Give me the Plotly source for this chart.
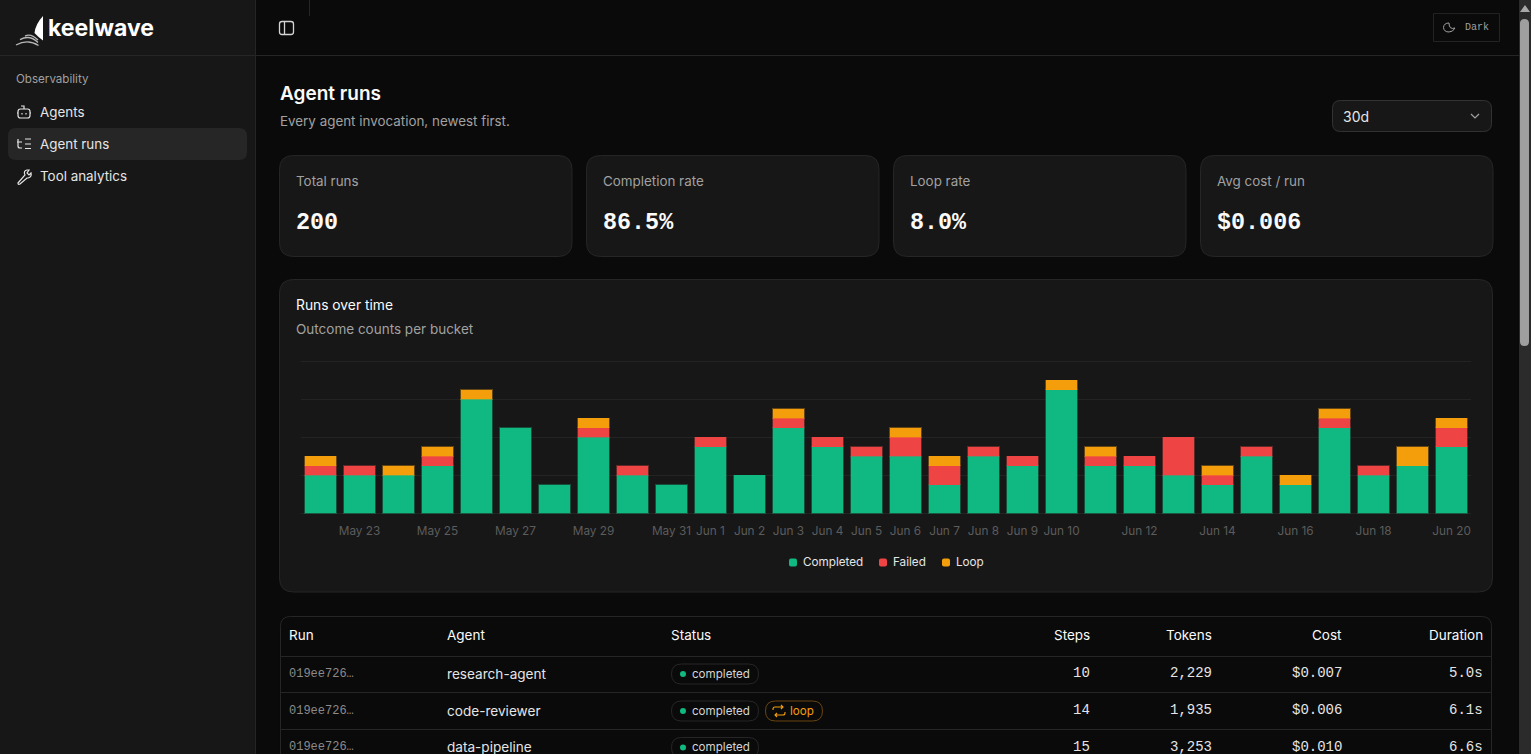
import re
import plotly.graph_objects as go

W, H = 1531, 754

# --- datos del chart ---
dates = ["May 22", "May 23", "May 24", "May 25", "May 26", "May 27", "May 28", "May 29", "May 30", "May 31",
         "Jun 1", "Jun 2", "Jun 3", "Jun 4", "Jun 5", "Jun 6", "Jun 7", "Jun 8", "Jun 9", "Jun 10",
         "Jun 11", "Jun 12", "Jun 13", "Jun 14", "Jun 15", "Jun 16", "Jun 17", "Jun 18", "Jun 19", "Jun 20"]
completed = [4, 4, 4, 5, 12, 9, 3, 8, 4, 3, 7, 4, 9, 7, 6, 6, 3, 6, 5, 13, 5, 5, 4, 3, 6, 3, 9, 4, 5, 7]
failed = [1, 1, 0, 1, 0, 0, 0, 1, 1, 0, 1, 0, 1, 1, 1, 2, 2, 1, 1, 0, 1, 1, 4, 1, 1, 0, 1, 1, 0, 2]
loop = [1, 0, 1, 1, 1, 0, 0, 1, 0, 0, 0, 0, 1, 0, 0, 1, 1, 0, 0, 1, 1, 0, 0, 1, 0, 1, 1, 0, 2, 1]
tick_labels = ["May 23", "May 25", "May 27", "May 29", "May 31", "Jun 1", "Jun 2", "Jun 3", "Jun 4", "Jun 5",
               "Jun 6", "Jun 7", "Jun 8", "Jun 9", "Jun 10", "Jun 12", "Jun 14", "Jun 16", "Jun 18", "Jun 20"]
grid_vals = [0, 4, 8, 12, 16]

# --- textos de la pagina ---
nav_items = ["Agents", "Agent runs", "Tool analytics"]
kpi_names = ["Total runs", "Completion rate", "Loop rate", "Avg cost / run"]
kpi_values = ["200", "86.5%", "8.0%", "$0.006"]
table_head = ["Run", "Agent", "Status", "Steps", "Tokens", "Cost", "Duration"]
run_ids = ["019ee726…", "019ee726…", "019ee726…"]
agents = ["research-agent", "code-reviewer", "data-pipeline"]
steps = ["10", "14", "15"]
tokens = ["2,229", "1,935", "3,253"]
costs = ["$0.007", "$0.006", "$0.010"]
durations = ["5.0s", "6.1s", "6.6s"]

GREEN, RED, AMBER = "#10b981", "#ef4444", "#f59e0b"
SIDE = "#171717"
MAIN = "#0a0a0a"
LINE = "#262626"
SANS = "Inter"
MONO = "Liberation Mono"


def fx(x):
    return x / W


def fy(y):
    return 1 - y / H


def to_paper(d):
    # convierte "x,y" en pixeles a fracciones de papel
    return re.sub(r"(-?[\d.]+),(-?[\d.]+)", lambda m: f"{fx(float(m[1])):.5f},{fy(float(m[2])):.5f}", d)


shapes = []
notes = []


def path(d, fill=None, line=None, width=1):
    shapes.append(dict(type="path", xref="paper", yref="paper", path=to_paper(d), layer="below",
                       fillcolor=fill or "rgba(0,0,0,0)",
                       line=dict(color=line or "rgba(0,0,0,0)", width=width if line else 0)))


def round_box(x0, y0, x1, y1, r, fill=None, line=None, width=1):
    d = (f"M{x0 + r},{y0} L{x1 - r},{y0} Q{x1},{y0} {x1},{y0 + r} L{x1},{y1 - r} Q{x1},{y1} {x1 - r},{y1} "
         f"L{x0 + r},{y1} Q{x0},{y1} {x0},{y1 - r} L{x0},{y0 + r} Q{x0},{y0} {x0 + r},{y0} Z")
    path(d, fill, line, width)


def hline(x0, x1, y, color=LINE):
    path(f"M{x0},{y} L{x1},{y}", line=color)


def text(x, y, s, size=13.5, color="#e5e5e5", anchor="left", font=SANS, weight=400):
    notes.append(dict(xref="paper", yref="paper", x=fx(x), y=fy(y), text=s, showarrow=False,
                      xanchor=anchor, yanchor="middle", borderpad=0, borderwidth=0,
                      font=dict(family=font, size=size, color=color, weight=weight)))


# fondos generales
path(f"M0,0 L255,0 L255,{H} L0,{H} Z", fill=SIDE)
path(f"M255.5,0 L255.5,{H}", line=LINE)
hline(0, 1519, 55.5)
path("M309.5,0 L309.5,16", line=LINE)

# scrollbar
path(f"M1519,0 L{W},0 L{W},{H} L1519,{H} Z", fill="#2b2b2b")
round_box(1520, 19, 1529, 346, 4.5, fill="#9f9f9f")
path("M1525,5 L1520,12 L1530,12 Z", fill="#a8a8a8")

# logo
path("M43,16 Q35.5,24 34.5,33 Q38,37 43,40.5 Z", fill="#ffffff")
for xa, ya, xm, ym, xb, yb in [(25, 36, 31, 33, 38, 40), (20, 39.5, 30, 34.5, 38, 42.5), (16, 45, 28, 38.5, 38.5, 45.5)]:
    path(f"M{xa},{ya} Q{xm},{ym} {xb},{yb}", line="#b8b8b8", width=1.4)
text(48, 28, "keelwave", size=23, color="#ffffff", weight=700)

# menu lateral
text(16, 79, "Observability", size=11.6, color="#a1a1a1")
round_box(8, 128, 247, 160, 8, fill="#262626")
for y0, s in zip([112, 144, 176], nav_items):
    text(40, y0, s, size=13.4, color="#e5e5e5")
# icono robot
round_box(18, 109, 30, 118, 2.5, line="#e5e5e5", width=1.2)
path("M24,109 L24,106 L21,106 M17,113 L18,113 M30,113 L31,113", line="#e5e5e5", width=1.2)
path("M22,113 L22,114.5 M26,113 L26,114.5", line="#e5e5e5", width=1.2)
# icono lista
path("M18,139 L18,146 Q18,148 20,148 L22,148 M17,142 L22,142 M25,139 L31,139 M25,144 L31,144 M25,148.5 L31,148.5",
     line="#e5e5e5", width=1.2)
# icono llave
path("M18,183 L25,175 Q23,171 27,170 L29,170 L27,173 L29,175 L31,173 Q32,177 28,178 L27,178 L20,184 Q18,185 18,183 Z",
     line="#e5e5e5", width=1.2)

# cabecera
round_box(279.5, 21.5, 293.5, 34.5, 2.5, line="#d4d4d4", width=1.3)
path("M284.5,22 L284.5,34", line="#d4d4d4", width=1.3)
path("M1433.5,13.5 L1499.5,13.5 L1499.5,41.5 L1433.5,41.5 Z", line="#232323")
path("M1449,23 Q1444,23 1443.5,27.5 Q1444,32 1449,32 Q1453,32 1455,28 Q1449,30 1449,23 Z", line="#a1a1a1", width=1)
text(1465, 27.5, "Dark", size=10, color="#a1a1a1", font=MONO)

# titulo y selector
text(280, 93.8, "Agent runs", size=19, color="#fafafa", weight=600)
text(280, 121, "Every agent invocation, newest first.", size=13.4, color="#a1a1a1")
round_box(1332.5, 100.5, 1491.5, 131.5, 8, fill=SIDE, line="#333333")
text(1343, 116, "30d", size=14, color="#e5e5e5")
path("M1471,114 L1475,118 L1479,114", line="#a1a1a1", width=1.2)

# tarjetas kpi
for x0, name, val in zip([279.5, 586.5, 893.5, 1200.5], kpi_names, kpi_values):
    round_box(x0, 155.5, x0 + 292.5, 256.5, 14, fill=SIDE, line=LINE)
    text(x0 + 16.5, 181, name, size=13.4, color="#a1a1a1")
    text(x0 + 16.5, 223, val, size=23.4, color="#fafafa", font=MONO, weight=700)

# tarjeta del grafico
round_box(279.5, 279.5, 1492.5, 592, 14, fill=SIDE, line=LINE)
text(296, 305, "Runs over time", size=13.8, color="#fafafa", weight=400)
text(296, 329, "Outcome counts per bucket", size=13.5, color="#a1a1a1")

# leyenda
for x0, color, name in zip([789, 879, 942], [GREEN, RED, AMBER], ["Completed", "Failed", "Loop"]):
    round_box(x0, 558.5, x0 + 8, 566.5, 2, fill=color)
    text(x0 + 14, 561.5, name, size=11.7, color="#e5e5e5")

# tabla
round_box(280.5, 616.5, 1491.5, 800, 10, fill=MAIN, line=LINE)
hline(281, 1491, 656.5)
hline(281, 1491, 692.5)
hline(281, 1491, 729.5)
for x0, s in zip([289, 447, 671], table_head[:3]):
    text(x0, 634.5, s, size=13.5, color="#fafafa", weight=400)
for x0, s in zip([1090, 1212, 1342, 1483], table_head[3:]):
    text(x0, 634.5, s, size=13.5, color="#fafafa", anchor="right", weight=400)

for i, y0 in enumerate([674, 711, 747.5]):
    text(289, y0 - 0.5, run_ids[i], size=12, color="#8a8a8a", font=MONO)
    text(447, y0 - 0.5, agents[i], size=13.6, color="#e5e5e5")
    round_box(671.5, y0 - 10, 758.5, y0 + 10, 10, line=LINE)
    path(f"M680,{y0} Q680,{y0 - 3} 683,{y0 - 3} Q686,{y0 - 3} 686,{y0} Q686,{y0 + 3} 683,{y0 + 3} Q680,{y0 + 3} 680,{y0} Z",
         fill=GREEN)
    text(692, y0 - 0.5, "completed", size=11.6, color="#d4d4d4")
    text(1090, y0 - 1, steps[i], size=14, color="#e5e5e5", anchor="right", font=MONO)
    text(1212, y0 - 1, tokens[i], size=14, color="#e5e5e5", anchor="right", font=MONO)
    text(1342, y0 - 1, costs[i], size=14, color="#e5e5e5", anchor="right", font=MONO)
    text(1483, y0 - 1, durations[i], size=14, color="#e5e5e5", anchor="right", font=MONO)

# etiqueta loop
round_box(765.5, 701, 822.5, 721, 10, line="#6b4510")
path("M773,710 L773,709 Q773,707 775,707 L783,707 M781,705 L783,707 L781,709 M785,712 L785,713 Q785,715 783,715 L775,715 M777,713 L775,715 L777,717",
     line=AMBER, width=1.1)
text(790, 710.5, "loop", size=11.6, color=AMBER)

# barras (los ceros no se dibujan, si no queda una rayita del borde)
fig = go.Figure()
series = [("Completed", completed, GREEN, "rgba(16,185,129,0.35)"),
          ("Failed", failed, RED, "rgba(239,68,68,0.35)"),
          ("Loop", loop, AMBER, "rgba(245,158,11,0.35)")]
for name, vals, color, edge in series:
    fig.add_trace(go.Bar(x=dates, y=[v or None for v in vals], name=name,
                         marker=dict(color=color, line=dict(width=1, color=edge)), showlegend=False))

fig.update_layout(
    width=W, height=H, barmode="stack", bargap=0.2,
    paper_bgcolor=MAIN, plot_bgcolor="rgba(0,0,0,0)",
    margin=dict(l=0, r=0, t=0, b=0), showlegend=False,
    shapes=shapes, annotations=notes,
    font=dict(family=SANS),
    xaxis=dict(domain=[fx(301), fx(1471)], type="category", categoryorder="array", categoryarray=dates,
               range=[-0.5, 29.5], tickmode="array", tickvals=tick_labels, ticktext=tick_labels,
               showgrid=False, zeroline=False, showline=False, ticks="", tickangle=0, ticklabelstandoff=7,
               tickfont=dict(family=SANS, size=11.8, color="#5c5c5c")),
    # el rango pasa un poco de 0 y 16 para que plotly no quite las lineas de los extremos
    yaxis=dict(domain=[fy(515), fy(359)], range=[-0.2105, 16.2105], tickmode="array", tickvals=grid_vals,
               showticklabels=False, showgrid=True, gridcolor="#232323", gridwidth=1,
               zeroline=False, showline=False, ticks=""),
)

fig.write_html("out.html", config=dict(displayModeBar=False),
               post_script="document.body.style.margin='0';document.body.style.overflow='hidden';")
